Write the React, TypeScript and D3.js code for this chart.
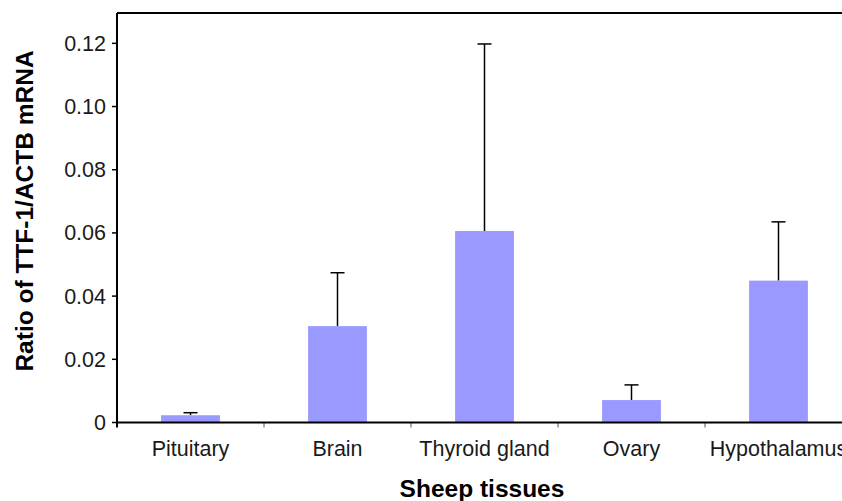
import React from "react";
import * as d3 from "d3";

const categories = ["Pituitary", "Brain", "Thyroid gland", "Ovary", "Hypothalamus"];
const means = [0.0023, 0.0305, 0.0606, 0.0071, 0.0449];
const errUpper = [0.0031, 0.0474, 0.1198, 0.0119, 0.0635];
const yTicks = [0, 0.02, 0.04, 0.06, 0.08, 0.1, 0.12];
const yTickLabels = ["0", "0.02", "0.04", "0.06", "0.08", "0.10", "0.12"];

const W = 842;
const H = 501;
const left = 117;
const right = 852;
const top = 13;
const bottom = 422.5;

export default function App() {
  const x = d3.scaleBand<string>().domain(categories).range([left, right]).paddingInner(0).paddingOuter(0);
  const y = d3.scaleLinear().domain([0, 0.1296]).range([bottom, top]);
  const bw = x.bandwidth() * 0.4;
  const font = "'Liberation Sans', Arial, sans-serif";
  const boundaries = categories.map((c) => (x(c) as number) + x.bandwidth()).slice(0, -1);

  return (
    <svg width={W} height={H} style={{ position: "absolute", left: 0, top: 0 }} fontFamily={font}>
      <rect x={0} y={0} width={W} height={H} fill="#fff" />
      {categories.map((c, i) => {
        const cx = (x(c) as number) + x.bandwidth() / 2;
        return (
          <g key={c}>
            <line x1={cx} x2={cx} y1={y(errUpper[i])} y2={y(means[i])} stroke="#000" strokeWidth={1.5} />
            <line x1={cx - 7} x2={cx + 7} y1={y(errUpper[i])} y2={y(errUpper[i])} stroke="#000" strokeWidth={1.5} />
            <rect x={cx - bw / 2} y={y(means[i])} width={bw} height={bottom - y(means[i])} fill="#9999FF" />
            <text x={cx} y={456} textAnchor="middle" fontSize={21.5} fill="#1a1a1a">{c}</text>
          </g>
        );
      })}
      {boundaries.map((b, i) => (
        <line key={i} x1={b} x2={b} y1={bottom} y2={bottom + 5} stroke="#555" strokeWidth={1} />
      ))}
      <line x1={left} x2={right} y1={top} y2={top} stroke="#000" strokeWidth={2} />
      <line x1={left} x2={right} y1={bottom} y2={bottom} stroke="#000" strokeWidth={2} />
      <line x1={left} x2={left} y1={top} y2={bottom + 5} stroke="#000" strokeWidth={2} />
      {yTicks.map((t, i) => (
        <g key={t}>
          <line x1={left - 5} x2={left} y1={y(t)} y2={y(t)} stroke="#000" strokeWidth={1.5} />
          <text x={106} y={y(t)} dy="0.35em" textAnchor="end" fontSize={21.5} fill="#1a1a1a">{yTickLabels[i]}</text>
        </g>
      ))}
      <text x={482} y={497} textAnchor="middle" fontSize={24.5} fontWeight="bold" fill="#000">Sheep tissues</text>
      <text transform={`translate(33,211) rotate(-90)`} textAnchor="middle" fontSize={24.5} fontWeight="bold" fill="#000">Ratio of TTF-1/ACTB mRNA</text>
    </svg>
  );
}
